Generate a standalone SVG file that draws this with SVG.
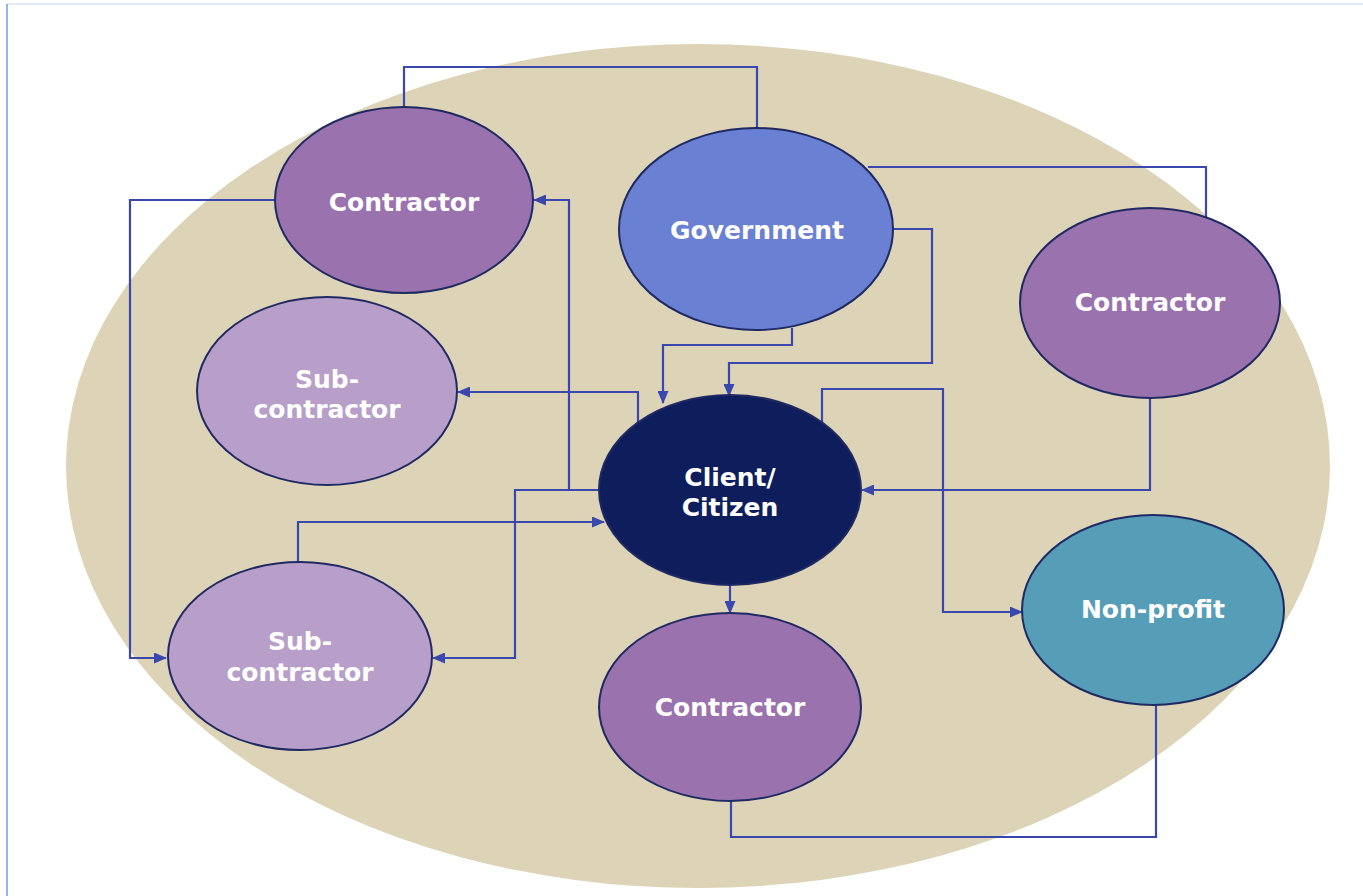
<svg xmlns="http://www.w3.org/2000/svg" width="1363" height="896" viewBox="0 0 1363 896">
  <defs>
    <marker id="arrow" viewBox="0 0 13 11" refX="12" refY="5.5" markerWidth="13" markerHeight="11" markerUnits="userSpaceOnUse" orient="auto">
      <path d="M0,0 L13,5.5 L0,11 Z" fill="#3a47ad"/>
    </marker>
    <style>
      .node ellipse { stroke: #1f2a62; stroke-width: 2; }
      .contractor { fill: #9a72ae; }
      .sub { fill: #b89fc9; }
      .gov { fill: #6a80d3; }
      .client { fill: #0e1d5c; }
      .nonprofit { fill: #569db8; }
      .label { font-family: "DejaVu Sans", Verdana, sans-serif; font-weight: bold; font-size: 25px; fill: #ffffff; text-anchor: middle; }
      .conn { fill: none; stroke: #3a47ad; stroke-width: 2.2; }
      .arr { marker-end: url(#arrow); }
    </style>
  </defs>

  <rect x="0" y="0" width="1363" height="896" fill="#ffffff"/>
  <!-- frame edges -->
  <line x1="7" y1="4" x2="1363" y2="4" stroke="#d6e6f6" stroke-width="1.5"/>
  <line x1="7" y1="4" x2="7" y2="896" stroke="#8eb8f0" stroke-width="2"/>

  <!-- environment backdrop -->
  <ellipse id="backdrop" cx="698" cy="466" rx="632" ry="422" fill="#ddd4b8"/>

  <g id="connectors">
    <polyline class="conn" points="404,107 404,67 757,67 757,128"/>
    <polyline class="conn arr" points="275,200 130,200 130,658 166,658"/>
    <polyline class="conn arr" points="600,490 569,490 569,200 534,200"/>
    <polyline class="conn arr" points="569,490 515,490 515,658 433,658"/>
    <polyline class="conn arr" points="638,423 638,392 458,392"/>
    <polyline class="conn arr" points="298,562 298,522 604,522"/>
    <polyline class="conn arr" points="792,328 792,345 663,345 663,403"/>
    <polyline class="conn arr" points="893,229 932,229 932,363 729,363 729,396"/>
    <polyline class="conn" points="868,167 1206,167 1206,217"/>
    <polyline class="conn arr" points="1150,397 1150,490 862,490"/>
    <polyline class="conn arr" points="822,423 822,389 943,389 943,612 1022,612"/>
    <polyline class="conn arr" points="730,585 730,613"/>
    <polyline class="conn" points="731,800 731,837 1156,837 1156,705"/>
  </g>

  <g id="contractor-top" class="node">
    <ellipse class="contractor" cx="404" cy="200" rx="129" ry="93"/>
    <text class="label" x="404" y="211">Contractor</text>
  </g>

  <g id="government" class="node">
    <ellipse class="gov" cx="756" cy="229" rx="137" ry="101"/>
    <text class="label" x="757" y="239">Government</text>
  </g>

  <g id="contractor-right" class="node">
    <ellipse class="contractor" cx="1150" cy="303" rx="130" ry="95"/>
    <text class="label" x="1150" y="311">Contractor</text>
  </g>

  <g id="subcontractor-upper" class="node">
    <ellipse class="sub" cx="327" cy="391" rx="130" ry="94"/>
    <text class="label" x="327" y="388">Sub-</text>
    <text class="label" x="327" y="418">contractor</text>
  </g>

  <g id="client" class="node">
    <ellipse class="client" cx="730" cy="490" rx="131" ry="95"/>
    <text class="label" x="730" y="486">Client/</text>
    <text class="label" x="730" y="516">Citizen</text>
  </g>

  <g id="subcontractor-lower" class="node">
    <ellipse class="sub" cx="300" cy="656" rx="132" ry="94"/>
    <text class="label" x="300" y="650">Sub-</text>
    <text class="label" x="300" y="681">contractor</text>
  </g>

  <g id="contractor-bottom" class="node">
    <ellipse class="contractor" cx="730" cy="707" rx="131" ry="94"/>
    <text class="label" x="730" y="716">Contractor</text>
  </g>

  <g id="nonprofit" class="node">
    <ellipse class="nonprofit" cx="1153" cy="610" rx="131" ry="95"/>
    <text class="label" x="1153" y="618">Non-profit</text>
  </g>
</svg>
